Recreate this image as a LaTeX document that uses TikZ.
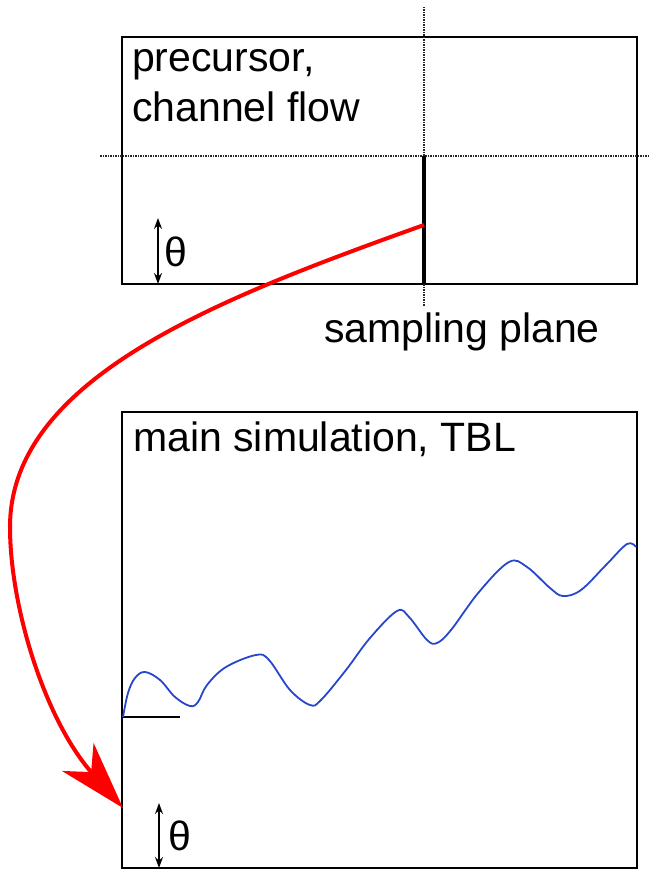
\documentclass[tikz,border=0pt]{standalone}
\usepackage{fontspec}
\setmainfont{Liberation Sans}
\usetikzlibrary{arrows.meta}
\definecolor{profblue}{RGB}{40,70,205}

\begin{document}
\begin{tikzpicture}[x=1pt, y=1pt,
	every node/.style={font=\fontsize{41}{50}\selectfont, inner sep=0pt},
	box/.style={draw, line width=2.8pt, outer sep=0pt, anchor=north west},
	guide/.style={dash pattern=on 1.5pt off 1pt, line width=2pt, black!85},
	height/.style={{Stealth[length=11pt,width=8pt]}-{Stealth[length=11pt,width=8pt]}, line width=1.4pt},
	feed/.style={red, line width=4pt, -{Stealth[length=68pt,width=42pt,inset=20pt]}},
	profile/.style={profblue, line width=1.8pt}]
	\useasboundingbox (0,0) rectangle (650,870);
	% the two domains
	\node[box, minimum width=515pt, minimum height=247pt] (pre) at (122,833) {};
	\node[box, minimum width=515pt, minimum height=456pt] (main) at (122,458) {};
	\node[anchor=base west] (pretop) at (132,798) {precursor,};
	\node[anchor=base west] (prebot) at (132,748) {channel flow};
	\node[anchor=base west] (maintext) at (133,418) {main simulation, TBL};
	% sampling plane
	\coordinate (cut) at (424,714);
	\draw[guide] (100,714) -- (650,714);
	\draw[guide] (424,863) -- (424,563);
	\draw[line width=4pt] (cut) -- (cut |- pre.south);
	\node[anchor=base] (plane) at (462,527) {sampling plane};
	% heights
	\draw[height] (158,652) -- (158,586);
	\node (thpre) at (176,618) {θ};
	\draw[height] (159,67) -- (159,2);
	\node (thmain) at (180,34) {θ};
	% inflow profile and boundary layer edge
	\draw[line width=2.2pt] (122,153) -- (180,153);
	\draw[profile] plot[smooth, tension=0.6] coordinates {(123,153) (128,177) (135,192) (145,198)
		(160,190) (175,173) (190,164) (198,168) (207,185) (226,203) (256,215) (269,210)
		(290,180) (310,165) (321,170) (346,200) (370,232) (397,259) (409,253) (427,230)
		(437,227) (451,240) (479,278) (509,308) (527,303) (550,282) (563,274) (581,280)
		(606,305) (627,326) (636,323)};
	% recycling of the sampled plane
	\coordinate (src) at (424,645);
	\coordinate (inlet) at (123,62);
	\draw[feed] (src) .. controls (223,573) and (10,493) .. (10,343)
		.. controls (10,263) and (45,150) .. (inlet);
\end{tikzpicture}
\end{document}
